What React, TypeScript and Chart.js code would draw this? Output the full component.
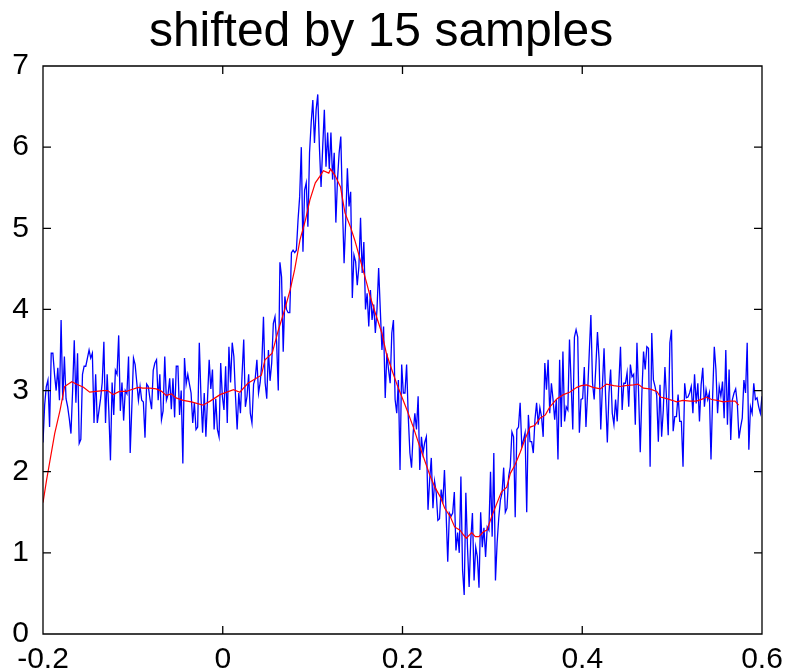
import React, { useEffect, useRef } from "react";
import { Chart, registerables } from "chart.js";

Chart.register(...registerables);

const TITLE = "shifted by 15 samples";
const X_TICKS = [-0.2, 0, 0.2, 0.4, 0.6];
const Y_TICKS = [0, 1, 2, 3, 4, 5, 6, 7];
const T_START = -0.2;
const T_END = 0.6;

// Raw (noisy) signal, read left to right in five stretches
const BLUE_A = [
  2.36, 2.82, 3.05, 3.13, 2.55, 3.46, 3.46, 3.2, 3.0, 3.28,
  2.88, 3.87, 2.88, 3.42, 2.9, 2.8, 2.65, 2.47, 3.0, 3.62,
  2.85, 3.46, 2.35, 2.4, 3.2, 3.3, 3.3, 3.4, 3.5, 3.4,
  3.46, 2.6, 3.2, 2.6, 2.75, 2.9, 3.1, 3.6, 2.6, 3.2,
  2.75, 2.14, 3.1, 2.7, 3.25, 3.2, 3.68, 2.75, 3.1, 2.63,
  3.0, 2.96, 3.42, 2.23, 2.8, 3.4, 3.32, 3.1, 2.88, 3.05,
  2.88, 2.86, 2.42, 3.08, 3.05, 2.9, 2.77, 3.25, 3.34, 3.38,
  2.88, 3.2, 2.64, 2.75, 3.42, 2.88, 2.95, 3.15, 2.77, 3.15,
  2.67, 3.3, 3.3, 2.7, 3.0, 2.1, 3.4, 3.08, 3.2,
];
const BLUE_B = [
  3.08, 2.97, 2.6, 2.85, 2.52, 2.55, 3.59, 2.93, 2.48, 2.97,
  2.43, 2.9, 3.38, 3.02, 3.26, 2.52, 2.9, 2.52, 2.43, 3.34,
  2.93, 2.76, 3.3, 2.6, 3.54, 3.1, 3.59, 3.42, 2.93, 2.52,
  2.97, 2.72, 3.2, 3.63, 2.8, 2.93, 3.2, 2.72, 2.6, 3.08,
  3.15, 3.38, 2.97, 3.1, 3.34, 3.91, 3.1, 2.9, 3.5, 3.12,
  3.34, 3.83, 3.91, 3.59, 3.0, 4.58, 4.4, 3.48, 4.16, 4.0,
  3.96, 3.96, 4.7, 4.73, 4.7, 4.73, 5.1, 5.39, 6.0, 4.71,
  5.47, 5.56, 5.02, 5.93, 6.3, 6.58, 6.05, 6.46, 6.65, 6.0,
  5.51, 6.0, 6.46, 5.76, 6.18, 5.73, 6.18, 5.6, 5.93, 5.07,
  5.6,
];
const BLUE_C = [
  5.93, 6.13, 5.27, 4.57, 5.1, 5.74, 5.27, 5.45, 4.14, 4.67,
  4.59, 4.3, 4.53, 5.13, 4.45, 4.83, 4.0, 4.2, 3.79, 4.24,
  3.87, 4.06, 3.71, 4.0, 4.51, 4.0, 3.5, 3.79, 2.91, 3.46,
  3.26, 3.09, 3.71, 3.87, 2.89, 2.72, 3.13, 2.02, 3.32, 2.97,
  2.97, 3.32, 2.68, 2.23, 2.05, 2.48, 2.72, 2.52, 2.93, 2.02,
  2.43, 2.23, 2.36, 2.43, 1.53, 1.9, 2.17, 1.55, 1.88, 1.74,
  1.4, 1.42, 1.78, 1.61, 2.02, 1.49, 0.89, 1.49, 1.45, 1.49,
  1.75, 1.03, 1.25, 1.0, 1.94, 0.79, 0.48, 1.74, 1.07, 0.58,
  1.16, 1.49, 0.66, 1.07, 0.95, 0.57, 1.5, 1.07, 1.31, 0.95,
];
const BLUE_D = [
  1.32, 1.28, 2.0, 1.2, 2.23, 0.66, 1.12, 1.43, 1.65, 1.74,
  2.05, 1.5, 1.55, 1.94, 2.06, 2.49, 2.43, 1.44, 2.52, 2.55,
  2.85, 2.31, 2.39, 2.48, 1.5, 2.7, 2.37, 2.37, 2.23, 2.64,
  2.85, 2.58, 2.79, 2.68, 2.43, 3.34, 3.01, 3.38, 2.72, 3.09,
  2.89, 2.64, 2.89, 2.15, 3.38, 2.55, 3.48, 2.62, 2.8, 2.76,
  3.63, 3.09, 2.52, 3.66, 3.75, 3.66, 2.48, 2.89, 2.9, 3.29,
  2.55, 2.97, 3.46, 3.93, 3.09, 2.89, 3.29, 3.72, 3.38, 2.52,
  3.05, 3.52, 2.89, 2.36, 2.97, 3.26, 2.72, 2.58, 2.89, 2.62,
  3.09, 3.54, 2.76, 3.09,
];
const BLUE_E = [
  3.09, 3.22, 2.8, 3.32, 3.17, 3.2, 2.58, 3.59, 2.97, 2.24,
  2.97, 3.48, 3.26, 3.54, 3.52, 2.06, 3.71, 3.13, 3.05, 2.94,
  2.37, 3.07, 2.43, 2.76, 3.29, 2.89, 2.45, 3.59, 3.75, 2.5,
  2.68, 2.68, 2.95, 2.62, 2.62, 2.06, 3.09, 2.91, 2.92, 2.97,
  3.05, 2.72, 3.2, 2.84, 3.09, 2.62, 3.07, 3.28, 2.8, 3.01,
  2.89, 2.97, 2.15, 2.93, 3.54, 3.26, 2.72, 3.05, 2.93, 3.11,
  2.66, 3.5, 2.58, 3.26, 2.39, 2.89, 2.97, 3.02, 2.84, 2.41,
  2.55, 2.66, 3.13, 2.97, 3.59, 2.27, 2.8, 2.72, 3.09, 2.89,
  2.91, 2.8, 2.72, 2.93,
];

// Smoothed (filtered) signal: time stamps and values
const RED_T = [
  -0.2, -0.196, -0.187, -0.181, -0.176, -0.168, -0.163, -0.155, -0.148, -0.141,
  -0.133, -0.128, -0.122, -0.115, -0.107, -0.102, -0.094, -0.089, -0.081, -0.074,
  -0.068, -0.063, -0.057, -0.052, -0.044, -0.035,
  -0.022, -0.014, -0.003, 0.012, 0.019, 0.028, 0.043, 0.047, 0.055, 0.062,
  0.069, 0.075, 0.08, 0.086, 0.092, 0.097, 0.103, 0.108, 0.112, 0.118,
  0.12, 0.125, 0.131,
  0.136, 0.142, 0.147, 0.153, 0.16, 0.164, 0.169, 0.177, 0.182, 0.188,
  0.194, 0.199, 0.205, 0.212, 0.218, 0.223, 0.231, 0.236, 0.242, 0.247,
  0.253, 0.258, 0.264, 0.268, 0.271, 0.277, 0.281, 0.285, 0.29,
  0.294, 0.299, 0.305, 0.31, 0.316, 0.32, 0.325, 0.331, 0.336, 0.342,
  0.347, 0.353, 0.359, 0.364, 0.372, 0.379, 0.386, 0.394, 0.399, 0.405,
  0.412, 0.42, 0.427, 0.435, 0.442,
  0.448, 0.457, 0.462, 0.468, 0.475, 0.483, 0.487, 0.494, 0.5, 0.505,
  0.512, 0.52, 0.527, 0.535, 0.538, 0.544, 0.55, 0.557, 0.564, 0.57,
  0.574,
];
const RED_V = [
  1.62, 1.9, 2.47, 2.76, 3.05, 3.11, 3.08, 3.04, 2.98, 2.99,
  3.0, 3.0, 2.95, 2.99, 2.99, 3.01, 3.04, 3.03, 3.03, 3.02,
  2.99, 2.94, 2.96, 2.91, 2.88, 2.86,
  2.82, 2.87, 2.95, 3.01, 2.98, 3.09, 3.19, 3.38, 3.46, 3.75,
  4.0, 4.24, 4.49, 4.86, 5.1, 5.35, 5.56, 5.64, 5.71, 5.68,
  5.73, 5.65, 5.51,
  5.19, 5.02, 4.85, 4.61, 4.33, 4.16, 3.98, 3.71, 3.46, 3.26,
  3.07, 2.93, 2.76, 2.55, 2.35, 2.19, 1.94, 1.81, 1.69, 1.55,
  1.45, 1.32, 1.28, 1.22, 1.18, 1.25, 1.2, 1.2, 1.26,
  1.28, 1.44, 1.61, 1.75, 1.81, 1.98, 2.08, 2.24, 2.39, 2.55,
  2.57, 2.66, 2.7, 2.8, 2.9, 2.95, 2.98, 3.04, 3.06, 3.07,
  3.04, 3.02, 3.08, 3.06, 3.05,
  3.06, 3.07, 3.08, 3.03, 3.02, 2.99, 2.92, 2.9, 2.88, 2.86,
  2.88, 2.87, 2.87, 2.9, 2.92, 2.89, 2.88, 2.86, 2.87, 2.87,
  2.82,
];

const BLUE = [...BLUE_A, ...BLUE_B, ...BLUE_C, ...BLUE_D, ...BLUE_E];

const FONT = "'Liberation Sans', Arial, Helvetica, sans-serif";

const frameTicks = {
  id: "frameTicks",
  afterDatasetsDraw(chart: any) {
    const { ctx, chartArea: a, scales } = chart;
    const L = 8;
    ctx.save();
    ctx.strokeStyle = "#000";
    ctx.lineWidth = 1.3;
    ctx.beginPath();
    ctx.rect(a.left, a.top, a.right - a.left, a.bottom - a.top);
    scales.x.ticks.forEach((t: any) => {
      const px = scales.x.getPixelForValue(t.value);
      ctx.moveTo(px, a.bottom);
      ctx.lineTo(px, a.bottom - L);
      ctx.moveTo(px, a.top);
      ctx.lineTo(px, a.top + L);
    });
    scales.y.ticks.forEach((t: any) => {
      const py = scales.y.getPixelForValue(t.value);
      ctx.moveTo(a.left, py);
      ctx.lineTo(a.left + L, py);
      ctx.moveTo(a.right, py);
      ctx.lineTo(a.right - L, py);
    });
    ctx.stroke();
    ctx.restore();
  },
};

export default function App() {
  const ref = useRef<HTMLCanvasElement | null>(null);

  useEffect(() => {
    if (!ref.current) return;
    const n = BLUE.length;
    const blueData = BLUE.map((v, i) => ({
      x: T_START + (i * (T_END - T_START)) / (n - 1),
      y: v,
    }));
    const redData = RED_T.map((t, i) => ({ x: t, y: RED_V[i] }));

    const chart = new Chart(ref.current, {
      type: "line",
      data: {
        datasets: [
          {
            label: "filtered",
            data: redData,
            borderColor: "#ff0000",
            borderWidth: 1.2,
            pointRadius: 0,
            fill: false,
            tension: 0,
            order: 0,
          },
          {
            label: "raw",
            data: blueData,
            borderColor: "#0000ff",
            borderWidth: 1.3,
            pointRadius: 0,
            fill: false,
            tension: 0,
            order: 1,
          },
        ],
      },
      options: {
        responsive: false,
        animation: false,
        events: [],
        layout: { padding: { left: 0, right: 25, top: 0, bottom: 0 } },
        plugins: {
          legend: { display: false },
          tooltip: { enabled: false },
          title: {
            display: true,
            text: TITLE,
            color: "#000",
            font: { family: FONT, size: 48, weight: "normal" },
            padding: { top: 3.6, bottom: 4.8 },
          },
        },
        scales: {
          x: {
            type: "linear",
            min: T_START,
            max: T_END,
            afterBuildTicks: (s: any) => {
              s.ticks = X_TICKS.map((v) => ({ value: v }));
            },
            afterFit: (s: any) => {
              s.height = 37;
              s.paddingLeft = 0;
              s.paddingRight = 0;
            },
            grid: { display: false },
            border: { display: false },
            ticks: {
              autoSkip: false,
              maxRotation: 0,
              padding: 0,
              color: "#000",
              font: { family: FONT, size: 30 },
              callback: (v: any) => String(v),
            },
          },
          y: {
            type: "linear",
            min: 0,
            max: 7,
            afterBuildTicks: (s: any) => {
              s.ticks = Y_TICKS.map((v) => ({ value: v }));
            },
            afterFit: (s: any) => {
              s.width = 43;
              s.paddingTop = 0;
              s.paddingBottom = 0;
            },
            grid: { display: false },
            border: { display: false },
            ticks: {
              autoSkip: false,
              padding: 6,
              color: "#000",
              font: { family: FONT, size: 30 },
              callback: (v: any) => String(v),
            },
          },
        },
      },
      plugins: [frameTicks],
    });
    return () => chart.destroy();
  }, []);

  return (
    <div
      style={{
        position: "fixed",
        left: 0,
        top: 0,
        width: 787,
        height: 671,
        background: "#fff",
      }}
    >
      <canvas ref={ref} width={787} height={671} style={{ display: "block" }} />
    </div>
  );
}
